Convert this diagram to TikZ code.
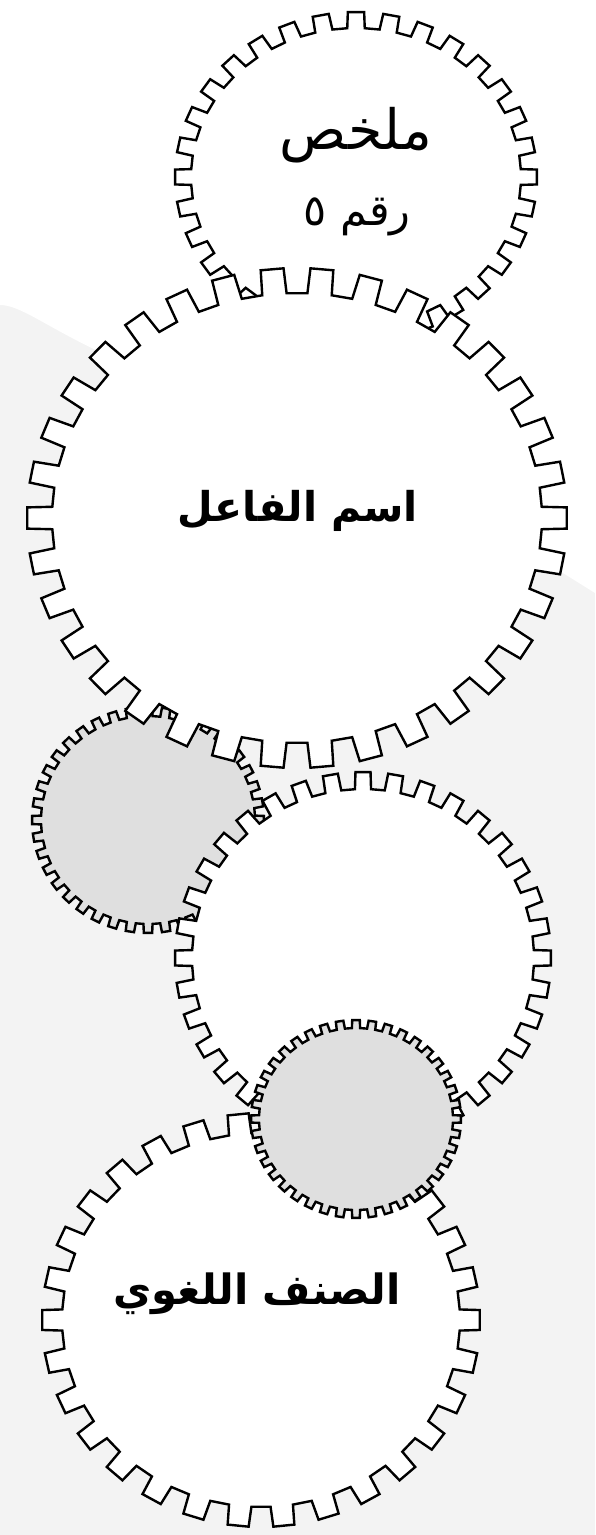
\documentclass[tikz,border=0pt]{standalone}
\usepackage{fontspec}
\usepackage{graphicx}
\TeXXeTstate=1
\newfontfamily\arabicfont[Script=Arabic]{DejaVu Sans}
\definecolor{bggray}{HTML}{F3F3F3}
\definecolor{geargray}{HTML}{DFDFDF}
\tikzset{
  gearline/.style={draw=black, line width=2.4pt, line join=miter, miter limit=4},
  geartext/.style={inner sep=0pt, text=black, anchor=center}
}
% #1 name, #2 cx, #3 cy, #4 rx, #5 ry, #6 depth, #7 teeth, #8 fill
\newcommand\drawgear[8]{%
  \pgfmathsetmacro\gs{360/#7}%
  \pgfmathsetmacro\ga{0.23*\gs}%
  \pgfmathsetmacro\gb{0.27*\gs}%
  \pgfmathsetmacro\grx{#4-#6}%
  \pgfmathsetmacro\gry{#5-#6}%
  \pgfmathtruncatemacro\gn{#7-1}%
  \coordinate (#1) at (#2,#3);
  \draw[gearline, fill=#8, shift={(#2,#3)}] ({\grx*cos(-\gb)},{\gry*sin(-\gb)})
    \foreach \i in {0,...,\gn} {
      -- ({\grx*cos(\i*\gs-\gb)},{\gry*sin(\i*\gs-\gb)})
      -- ({#4*cos(\i*\gs-\ga)},{#5*sin(\i*\gs-\ga)})
      -- ({#4*cos(\i*\gs+\ga)},{#5*sin(\i*\gs+\ga)})
      -- ({\grx*cos(\i*\gs+\gb)},{\gry*sin(\i*\gs+\gb)})
    } -- cycle;
}
\begin{document}
\begin{tikzpicture}[x=1pt,y=-1pt]
\useasboundingbox (0,0) rectangle (595,1535);
\fill[bggray] (0,0) rectangle (595,1535);
\fill[white] (0,0) -- (595,0) -- (595,593) -- (563,573) -- (100,352)
  .. controls (45,326) and (20,305) .. (0,305) -- cycle;
\drawgear{g1}{356}{177}{181}{165}{16}{32}{white}
\drawgear{g3}{148}{820}{116}{113}{9}{40}{geargray}
\drawgear{g2}{297}{518}{270}{250}{25}{34}{white}
\drawgear{g4}{363}{958}{188}{186}{17}{36}{white}
\drawgear{g6}{261}{1320}{219}{207}{20}{30}{white}
\drawgear{g5}{356}{1119}{105}{99}{8}{40}{geargray}
\node[geartext] (t1) at (356,135) {\resizebox{152pt}{!}{\arabicfont\beginR ملخص\endR}};
\node[geartext] (t2) at (357,217) {\resizebox{107pt}{!}{\arabicfont\beginR رقم ٥\endR}};
\node[geartext] (t3) at (298,511) {\resizebox{240pt}{!}{\arabicfont\bfseries\beginR اسم الفاعل\endR}};
\node[geartext] (t4) at (257,1294) {\resizebox{287pt}{!}{\arabicfont\bfseries\beginR الصنف اللغوي\endR}};
\end{tikzpicture}
\end{document}
